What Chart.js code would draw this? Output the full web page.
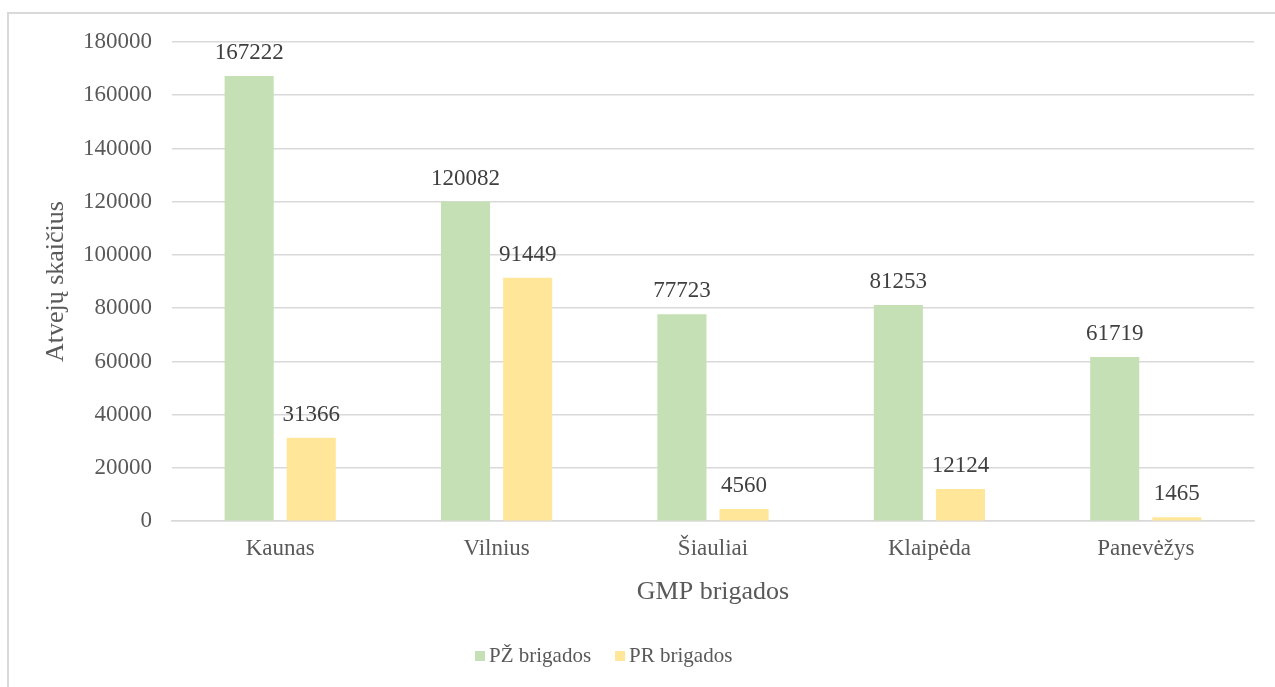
<!DOCTYPE html>
<html>
<head>
<meta charset="utf-8">
<script src="https://cdn.jsdelivr.net/npm/chart.js@4/dist/chart.umd.min.js"></script>
<style>
    body { margin: 0; background: #ffffff; overflow: hidden; }
    #frame {
        position: absolute; left: 7px; top: 12px;
        width: 1300px; height: 700px;
        border: 2px solid #d9d9d9; box-sizing: border-box;
    }
    #wrap { position: absolute; left: 0; top: 0; width: 1275px; height: 687px; }
</style>
</head>
<body>
<div id="frame"></div>
<div id="wrap"><canvas id="myChart" width="1275" height="687"></canvas></div>
<script>
var categories = ['Kaunas', 'Vilnius', 'Šiauliai', 'Klaipėda', 'Panevėžys'];
var pzValues = [167222, 120082, 77723, 81253, 61719];
var prValues = [31366, 91449, 4560, 12124, 1465];
var seriesNames = ['PŽ brigados', 'PR brigados'];
var seriesColors = ['#c5e0b4', '#ffe699'];

var serif = "'Liberation Serif', 'Times New Roman', serif";

// writes the value above every bar
var valueLabels = {
    id: 'valueLabels',
    afterDatasetsDraw: function (chart) {
        var ctx = chart.ctx;
        ctx.save();
        ctx.font = '23px ' + serif;
        ctx.fillStyle = '#404040';
        ctx.textAlign = 'center';
        ctx.textBaseline = 'alphabetic';
        chart.data.datasets.forEach(function (ds, i) {
            chart.getDatasetMeta(i).data.forEach(function (bar, j) {
                ctx.fillText(String(ds.data[j]), bar.x, bar.y - 17);
            });
        });
        ctx.restore();
    }
};

// legend drawn by hand so it can sit left of centre like the original
var bottomLegend = {
    id: 'bottomLegend',
    afterDraw: function (chart) {
        var ctx = chart.ctx;
        ctx.save();
        ctx.font = '21px ' + serif;
        ctx.textBaseline = 'middle';
        var x = 475;
        var y = 656;
        chart.data.datasets.forEach(function (ds) {
            ctx.fillStyle = ds.backgroundColor;
            ctx.fillRect(x, y - 5, 10, 10);
            ctx.fillStyle = '#595959';
            ctx.textAlign = 'left';
            ctx.fillText(ds.label, x + 14, y);
            x += 14 + ctx.measureText(ds.label).width + 24;
        });
        ctx.restore();
    }
};

function createChart() {
    var ctx = document.getElementById('myChart').getContext('2d');
    new Chart(ctx, {
        type: 'bar',
        data: {
            labels: categories,
            datasets: [
                { label: seriesNames[0], data: pzValues, backgroundColor: seriesColors[0] },
                { label: seriesNames[1], data: prValues, backgroundColor: seriesColors[1] }
            ]
        },
        options: {
            responsive: false,
            animation: false,
            categoryPercentage: 0.574,
            barPercentage: 0.79,
            layout: { padding: { left: 0, top: 42, right: 21, bottom: 79 } },
            plugins: {
                legend: { display: false },
                tooltip: { enabled: false }
            },
            scales: {
                x: {
                    grid: { display: false, drawTicks: false },
                    border: { display: true, color: '#d9d9d9', width: 1.5 },
                    ticks: { padding: 14, color: '#595959', font: { family: serif, size: 23 } },
                    title: {
                        display: true, text: 'GMP brigados', color: '#595959',
                        font: { family: serif, size: 26 }, padding: { top: 0, bottom: 0 }
                    }
                },
                y: {
                    min: 0, max: 180000,
                    afterFit: function (axis) { axis.width = 172; },
                    grid: { color: '#d9d9d9', lineWidth: 1.5, drawTicks: false },
                    border: { display: false },
                    ticks: {
                        stepSize: 20000, padding: 20, color: '#595959',
                        font: { family: serif, size: 23 },
                        callback: function (v) { return String(v); }
                    },
                    title: {
                        display: true, text: 'Atvejų skaičius', color: '#595959',
                        font: { family: serif, size: 26 }, padding: { top: 41, bottom: 0 }
                    }
                }
            }
        },
        plugins: [valueLabels, bottomLegend]
    });
}

createChart();
</script>
</body>
</html>
